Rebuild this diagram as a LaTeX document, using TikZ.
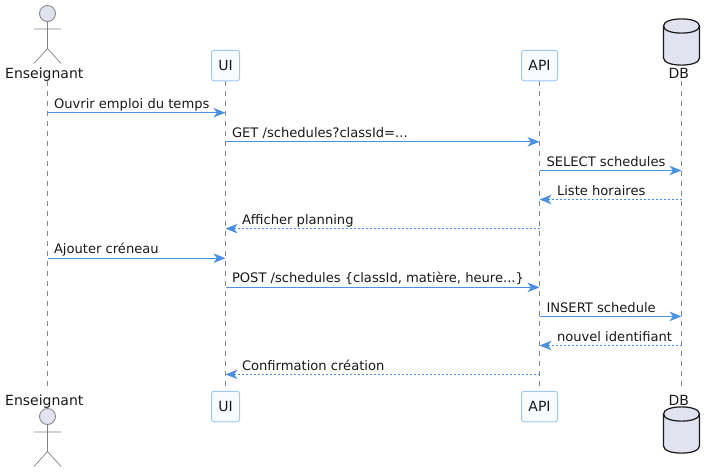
\documentclass[tikz,border=0pt]{standalone}
\usepackage{fontspec}
\setmainfont{DejaVu Sans}
\usetikzlibrary{arrows.meta}
\definecolor{arrowblue}{HTML}{4A90E2}
\definecolor{boxline}{HTML}{A0C8F4}
\definecolor{boxfill}{HTML}{F8FBFF}
\definecolor{actorfill}{HTML}{E2E2F0}
\definecolor{lifegray}{HTML}{888888}
\definecolor{stickgray}{HTML}{808080}
\tikzset{
  x=1pt,y=-1pt,
  every node/.style={font=\fontsize{13.1}{15}\selectfont,text=black!90,inner sep=0pt,outer sep=0pt},
  partbox/.style={draw=boxline,fill=boxfill,rounded corners=2.5pt,line width=1pt,minimum height=30.5pt,font=\fontsize{14}{16}\selectfont},
  plainlabel/.style={anchor=base,font=\fontsize{14}{16}\selectfont},
  lifeline/.style={draw=lifegray,line width=0.8pt,dash pattern=on 5pt off 5pt},
  msg/.style={draw=arrowblue,line width=1pt,-{Stealth[length=12pt,width=9.5pt,inset=3.5pt,fill=arrowblue]}},
  ret/.style={draw=arrowblue,line width=0.9pt,dash pattern=on 2pt off 2pt,-{Stealth[length=12pt,width=9.5pt,inset=3.5pt,fill=arrowblue,sep=0pt]}},
  stick/.style={draw=stickgray,line width=0.7pt},
  headc/.style={draw=stickgray,fill=actorfill,line width=0.8pt},
  cyl/.style={draw=black!90,fill=actorfill,line width=1.2pt},
  msgtext/.style={anchor=base west},
}
\newcommand{\stickman}[1]{%
  \begin{scope}[shift={(47.5,#1)}]
    \draw[stick] (0,8)--(0,35) (-13.5,15.5)--(13.5,15.5) (-13.5,50)--(0,35)--(13.5,50);
    \filldraw[headc] (0,0) circle (8);
  \end{scope}}
\newcommand{\dbcyl}[1]{%
  \begin{scope}[shift={(681.5,#1)}]
    \draw[cyl] (-18,7) .. controls (-18,-2.5) and (18,-2.5) .. (18,7)
      -- (18,39) .. controls (18,48.5) and (-18,48.5) .. (-18,39) -- cycle;
    \draw[cyl,fill=none] (-18,7) .. controls (-18,16.5) and (18,16.5) .. (18,7);
  \end{scope}}
\begin{document}
\begin{tikzpicture}
\useasboundingbox (0,0) rectangle (715,472);
% lifelines (drawn first)
\coordinate (et) at (47.5,81);  \coordinate (eb) at (47.5,391);
\coordinate (ut) at (225.5,81); \coordinate (ub) at (225.5,391);
\coordinate (at) at (539.5,81); \coordinate (ab) at (539.5,391);
\coordinate (dt) at (681.5,81); \coordinate (db) at (681.5,391);
\draw[lifeline] (et)--(eb);
\draw[lifeline] (ut)--(ub);
\draw[lifeline] (at)--(ab);
\draw[lifeline] (dt)--(db);
% row coordinates
\foreach \n/\y in {1/112.7,2/141.8,3/170.5,4/199.5,5/228.6,6/258.2,7/287.3,8/316.4,9/345.5,10/374.4}{
  \coordinate (e\n) at (47.5,\y);
  \coordinate (u\n) at (225.5,\y);
  \coordinate (a\n) at (539.5,\y);
  \coordinate (d\n) at (681.5,\y);
}
% participants
\stickman{13.5}
\node[plainlabel] (enstop) at (44.3,78) {Enseignant};
\node[partbox,minimum width=28pt] (uitop) at (225.5,65.5) {UI};
\node[partbox,minimum width=36pt] (apitop) at (539.5,65.5) {API};
\dbcyl{19}
\node[plainlabel] (dbtop) at (678.7,78) {DB};
\stickman{416.5}
\node[plainlabel] (ensbot) at (44.3,405) {Enseignant};
\node[partbox,minimum width=28pt] (uibot) at (225.5,406.5) {UI};
\node[partbox,minimum width=36pt] (apibot) at (539.5,406.5) {API};
\dbcyl{407}
\node[plainlabel] (dbbot) at (678.7,405) {DB};
% messages
\draw[msg] (e1)--(u1);
\draw[msg] (u2)--(a2);
\draw[msg] (a3)--(d3);
\draw[ret] (d4)--(a4);
\draw[ret] (a5)--(u5);
\draw[msg] (e6)--(u6);
\draw[msg] (u7)--(a7);
\draw[msg] (a8)--(d8);
\draw[ret] (d9)--(a9);
\draw[ret] (a10)--(u10);
% labels
\node[msgtext] (t1) at (54,108) {Ouvrir emploi du temps};
\node[msgtext] (t2) at (232,137) {GET /schedules?classId=...};
\node[msgtext] (t3) at (546.5,166) {SELECT schedules};
\node[msgtext] (t4) at (557,195) {Liste horaires};
\node[msgtext] (t5) at (242,224) {Afficher planning};
\node[msgtext] (t6) at (54,253.7) {Ajouter créneau};
\node[msgtext] (t7) at (232,282.8) {POST /schedules \{classId, matière, heure...\}};
\node[msgtext] (t8) at (546.5,312) {INSERT schedule};
\node[msgtext] (t9) at (557,341) {nouvel identifiant};
\node[msgtext] (t10) at (242,370) {Confirmation création};
\end{tikzpicture}
\end{document}
